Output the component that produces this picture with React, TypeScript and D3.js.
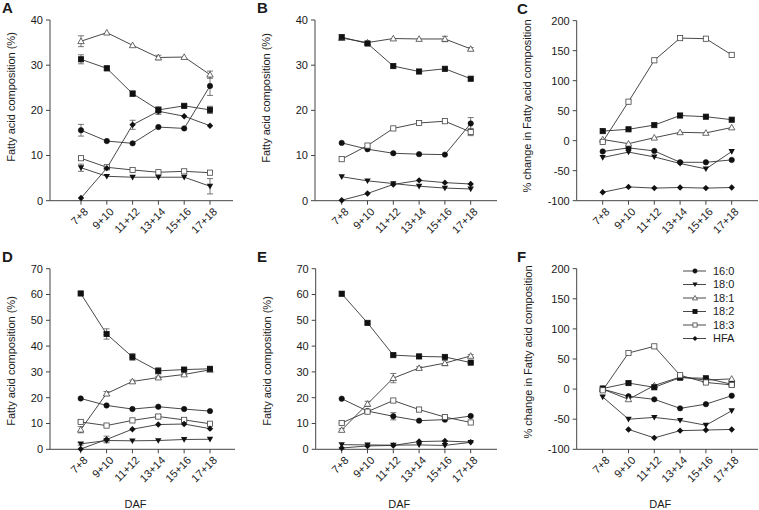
import React from "react";
import * as d3 from "d3";

const W = 759;
const H = 510;

const CATEGORIES = ["7+8", "9+10", "11+12", "13+14", "15+16", "17+18"];
const SERIES = ["16:0", "18:0", "18:1", "18:2", "18:3", "HFA"];
const SYMBOLS = ["circle", "tdown", "tup", "square", "osquare", "diamond"];

// rows follow SERIES order
const valuesA = [
  [15.6, 13.2, 12.7, 16.3, 16.0, 25.4],
  [7.3, 5.4, 5.2, 5.2, 5.2, 3.2],
  [35.3, 37.2, 34.4, 31.7, 31.8, 27.9],
  [31.3, 29.3, 23.7, 20.1, 21.0, 20.1],
  [9.4, 7.4, 6.8, 6.3, 6.5, 6.2],
  [0.6, 7.2, 16.8, 19.8, 18.7, 16.6],
];
const errorsA = [
  [1.3, 0, 0, 0, 0, 2.1],
  [0.8, 0, 0, 0, 0, 1.7],
  [1.2, 0, 0, 0.5, 0, 0.8],
  [1.0, 0.5, 0.6, 0.7, 0.3, 0.8],
  [0.3, 0, 0, 0, 0, 0],
  [0, 0, 1.0, 0.7, 0, 0],
];

const valuesB = [
  [12.8, 11.4, 10.5, 10.3, 10.2, 17.1],
  [5.3, 4.4, 3.8, 3.2, 2.8, 2.6],
  [36.0, 35.0, 35.9, 35.8, 35.8, 33.6],
  [36.2, 34.8, 29.8, 28.6, 29.2, 27.0],
  [9.2, 12.2, 16.0, 17.2, 17.6, 15.2],
  [0.1, 1.6, 3.6, 4.5, 4.0, 3.7],
];
const errorsB = [
  [0, 0, 0, 0, 0, 1.3],
  [0, 0, 0, 0, 0, 0],
  [0, 0, 0, 0, 0.6, 0.3],
  [0, 0, 0, 0, 0, 0],
  [0, 0, 0, 0, 0, 0.8],
  [0, 0, 0, 0, 0, 0],
];

const valuesC = [
  [-18, -12, -17, -36, -36, -32],
  [-28, -19, -27, -38, -47, -18],
  [2, -5, 5, 14, 13, 22],
  [16, 19, 26, 42, 40, 35],
  [-2, 65, 134, 171, 170, 143],
  [-86, -77, -79, -78, -79, -78],
];

const valuesD = [
  [19.7, 17.0, 15.6, 16.5, 15.6, 14.8],
  [2.1, 3.4, 3.3, 3.4, 3.8, 3.9],
  [7.6, 21.6, 26.3, 27.8, 29.0, 30.8],
  [60.4, 44.7, 35.8, 30.4, 30.9, 31.2],
  [10.6, 9.2, 11.2, 12.7, 11.4, 9.9],
  [0.1, 3.8, 7.8, 9.6, 9.8, 8.0],
];
const errorsD = [
  [0, 0, 0, 0, 0, 0],
  [0.5, 0.5, 0, 0, 0, 0],
  [1.2, 0.8, 0.5, 0.5, 0.5, 0.5],
  [0.5, 2.0, 1.3, 1.2, 0.3, 0.5],
  [0.4, 0, 0, 0.8, 0.4, 0.3],
  [0, 1.3, 0, 0, 0, 0],
];

const valuesE = [
  [19.6, 14.8, 12.8, 11.1, 11.5, 12.9],
  [1.8, 1.7, 1.6, 1.7, 1.5, 2.7],
  [7.5, 17.6, 27.6, 31.5, 33.4, 36.2],
  [60.3, 49.0, 36.5, 36.0, 35.8, 33.6],
  [10.2, 14.6, 18.9, 15.4, 12.5, 10.4],
  [0.5, 1.3, 1.5, 3.0, 3.2, 2.8],
];
const errorsE = [
  [0, 0, 1.4, 0, 0, 0],
  [0, 0, 0, 0, 0, 0],
  [0.5, 1.0, 1.8, 0.5, 1.0, 0.5],
  [0.8, 0.5, 0.5, 0.3, 0.3, 0.3],
  [0.3, 0.3, 0, 0, 0.3, 0],
  [0, 0, 0, 0, 0, 0],
];

const valuesF: (number | null)[][] = [
  [0, -12, -17, -32, -25, -11],
  [-13, -50, -47, -52, -60, -36],
  [0, -17, 6, 20, 15, 17],
  [1, 10, 3, 19, 18, 8],
  [-2, 60, 71, 23, 11, 7],
  [null, -67, -81, -69, -68, -67],
];

const TICKS_PCT40 = [0, 10, 20, 30, 40];
const TICKS_PCT70 = [0, 10, 20, 30, 40, 50, 60, 70];
const TICKS_CHANGE = [-100, -50, 0, 50, 100, 150, 200];

const TITLE_PCT = "Fatty acid composition (%)";
const TITLE_CHANGE = "% change in Fatty acid composition";

const FONT = "Liberation Sans, Arial, Helvetica, sans-serif";
const INK = "#1a1a1a";
const LINE = "#333";

const panels = [
  { letter: "A", values: valuesA, errors: errorsA, domain: [0, 40], ticks: TICKS_PCT40, title: TITLE_PCT,
    x0: 50, x1: 233, p0: 81, p5: 210, yTop: 20, yBot: 200.7, titleX: 15, titleY: 97, letterX: 2, daf: false },
  { letter: "B", values: valuesB, errors: errorsB, domain: [0, 40], ticks: TICKS_PCT40, title: TITLE_PCT,
    x0: 315, x1: 497, p0: 341.7, p5: 470.7, yTop: 20, yBot: 200.7, titleX: 270, titleY: 98, letterX: 257, daf: false },
  { letter: "C", values: valuesC, errors: null, domain: [-100, 200], ticks: TICKS_CHANGE, title: TITLE_CHANGE,
    x0: 576.7, x1: 758, p0: 602.7, p5: 731.7, yTop: 20.7, yBot: 200.7, titleX: 531, titleY: 106, letterX: 517, daf: false },
  { letter: "D", values: valuesD, errors: errorsD, domain: [0, 70], ticks: TICKS_PCT70, title: TITLE_PCT,
    x0: 50, x1: 235, p0: 80.7, p5: 210, yTop: 268.7, yBot: 449.3, titleX: 15, titleY: 361, letterX: 2, daf: true },
  { letter: "E", values: valuesE, errors: errorsE, domain: [0, 70], ticks: TICKS_PCT70, title: TITLE_PCT,
    x0: 315.7, x1: 497, p0: 341.7, p5: 470.7, yTop: 268.7, yBot: 449.3, titleX: 271, titleY: 361, letterX: 257, daf: true },
  { letter: "F", values: valuesF, errors: null, domain: [-100, 200], ticks: TICKS_CHANGE, title: TITLE_CHANGE,
    x0: 576.7, x1: 758, p0: 602.7, p5: 731.7, yTop: 268.7, yBot: 449.3, titleX: 532, titleY: 352, letterX: 517, daf: true, legend: true },
];

function Marker({ kind, cx, cy, s = 1 }: { kind: string; cx: number; cy: number; s?: number }) {
  const open = kind === "tup" || kind === "osquare";
  const fill = open ? "#fff" : "#111";
  const stroke = open ? "#444" : "#111";
  if (kind === "circle") return <circle cx={cx} cy={cy} r={2.7 * s} fill={fill} stroke={stroke} strokeWidth={0.6} />;
  if (kind === "square" || kind === "osquare") {
    const h = 2.6 * s;
    return <rect x={cx - h} y={cy - h} width={2 * h} height={2 * h} fill={fill} stroke={stroke} strokeWidth={0.8} />;
  }
  if (kind === "diamond") {
    const h = 3.2 * s;
    return <path d={`M${cx},${cy - h}L${cx + h},${cy}L${cx},${cy + h}L${cx - h},${cy}Z`} fill={fill} />;
  }
  if (kind === "tdown") {
    const h = 3.2 * s;
    return <path d={`M${cx - h},${cy - h * 0.75}L${cx + h},${cy - h * 0.75}L${cx},${cy + h}Z`} fill={fill} />;
  }
  const h = 3.2 * s;
  return <path d={`M${cx - h},${cy + h * 0.75}L${cx + h},${cy + h * 0.75}L${cx},${cy - h}Z`} fill={fill} stroke={stroke} strokeWidth={0.8} />;
}

function Panel({ cfg }: { cfg: any }) {
  const x = d3.scaleLinear().domain([0, CATEGORIES.length - 1]).range([cfg.p0, cfg.p5]);
  const y = d3.scaleLinear().domain(cfg.domain).range([cfg.yBot, cfg.yTop]);
  const line = d3
    .line<number | null>()
    .defined((d) => d != null)
    .x((_, i) => x(i))
    .y((d) => y(d as number));

  return (
    <g>
      <text x={cfg.letterX} y={cfg.yTop - 7} fontSize={15} fontWeight="bold" fontFamily={FONT} fill={INK}>{cfg.letter}</text>
      <text transform={`translate(${cfg.titleX},${cfg.titleY}) rotate(-90)`} textAnchor="middle"
        fontSize={11} fontFamily={FONT} fill={INK}>{cfg.title}</text>

      {/* axes */}
      <line x1={cfg.x0} x2={cfg.x0} y1={cfg.yTop} y2={cfg.yBot} stroke="#444" />
      <line x1={cfg.x0} x2={cfg.x1} y1={cfg.yBot} y2={cfg.yBot} stroke="#444" />
      {cfg.ticks.map((t: number) => (
        <g key={t}>
          <line x1={cfg.x0 - 4} x2={cfg.x0} y1={y(t)} y2={y(t)} stroke="#444" />
          <text x={cfg.x0 - 7} y={y(t)} dy="0.35em" textAnchor="end" fontSize={11} fontFamily={FONT} fill={INK}>{t}</text>
        </g>
      ))}
      {CATEGORIES.map((c, i) => (
        <g key={c}>
          <line x1={x(i)} x2={x(i)} y1={cfg.yBot} y2={cfg.yBot + 4} stroke="#444" />
          <text transform={`translate(${x(i) + 5},${cfg.yBot + 9}) rotate(-45)`} textAnchor="end" dy="0.35em"
            fontSize={11} fontFamily={FONT} fill={INK}>{c}</text>
        </g>
      ))}
      {cfg.daf && (
        <text x={(cfg.x0 + cfg.x1) / 2 - 7} y={cfg.yBot + 59} textAnchor="middle"
          fontSize={11} fontFamily={FONT} fill={INK}>DAF</text>
      )}

      {cfg.values.map((vals: (number | null)[], s: number) => (
        <path key={"l" + s} d={line(vals) || ""} fill="none" stroke={LINE} strokeWidth={0.9} />
      ))}
      {cfg.errors && cfg.errors.map((errs: number[], s: number) =>
        errs.map((e, i) => {
          if (!e) return null;
          const v = cfg.values[s][i] as number;
          return (
            <g key={"e" + s + "-" + i} stroke="#555" strokeWidth={0.8}>
              <line x1={x(i)} x2={x(i)} y1={y(v - e)} y2={y(v + e)} />
              <line x1={x(i) - 3} x2={x(i) + 3} y1={y(v - e)} y2={y(v - e)} />
              <line x1={x(i) - 3} x2={x(i) + 3} y1={y(v + e)} y2={y(v + e)} />
            </g>
          );
        })
      )}
      {cfg.values.map((vals: (number | null)[], s: number) =>
        vals.map((v, i) => (v == null ? null : <Marker key={"m" + s + "-" + i} kind={SYMBOLS[s]} cx={x(i)} cy={y(v)} />))
      )}

      {cfg.legend && SERIES.map((name, s) => {
        const ly = 271 + s * 13.5;
        return (
          <g key={name}>
            <line x1={683} x2={706} y1={ly} y2={ly} stroke={LINE} strokeWidth={0.9} />
            <Marker kind={SYMBOLS[s]} cx={695} cy={ly} s={0.8} />
            <text x={713} y={ly} dy="0.35em" fontSize={11} fontFamily={FONT} fill={INK}>{name}</text>
          </g>
        );
      })}
    </g>
  );
}

export default function App() {
  return (
    <svg width={W} height={H} style={{ position: "absolute", left: 0, top: 0, background: "#fff" }}>
      <rect width={W} height={H} fill="#fff" />
      {panels.map((p) => (
        <Panel key={p.letter} cfg={p} />
      ))}
    </svg>
  );
}
